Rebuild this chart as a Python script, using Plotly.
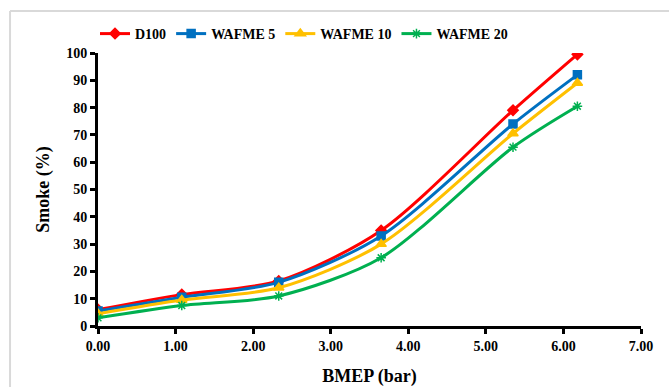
import plotly.graph_objects as go

bmep = [0.0, 1.08, 2.33, 3.65, 5.35, 6.18]
series_names = ["D100", "WAFME 5", "WAFME 10", "WAFME 20"]
d100 = [6.0, 11.5, 16.5, 35.0, 79.0, 99.5]
wafme5 = [5.5, 10.5, 16.0, 33.0, 74.0, 92.0]
wafme10 = [4.5, 9.5, 14.0, 30.0, 70.5, 89.0]
wafme20 = [3.0, 7.5, 11.0, 25.0, 65.5, 80.5]
x_ticks = [0, 1, 2, 3, 4, 5, 6, 7]
y_ticks = [0, 10, 20, 30, 40, 50, 60, 70, 80, 90, 100]

colors = ["#FF0000", "#0070C0", "#FFC000", "#00B050"]
symbols = ["diamond", "square", "triangle-up", "asterisk-open"]
sizes = [8, 8, 9, 8]
values = [d100, wafme5, wafme10, wafme20]

font = "Times New Roman"
fig = go.Figure()
for name, vals, c, s, sz in zip(series_names, values, colors, symbols, sizes):
    fig.add_trace(go.Scatter(
        x=bmep, y=vals, name=name, mode="lines+markers",
        line=dict(color=c, width=3, shape="spline", smoothing=0.8),
        marker=dict(symbol=s, size=sz, color=c, line=dict(color=c, width=1.5)),
    ))

fig.update_layout(
    width=669, height=387,
    margin=dict(l=98, r=28, t=53, b=61, autoexpand=False),
    paper_bgcolor="white", plot_bgcolor="white",
    font=dict(family=font, color="black"),
    showlegend=True,
    legend=dict(orientation="h", xref="container", yref="container",
                x=95 / 669, y=1 - 34 / 387, xanchor="left", yanchor="middle",
                font=dict(family=font, size=14, color="black", weight="bold"),
                itemwidth=30, tracegroupgap=0, bgcolor="rgba(0,0,0,0)"),
    xaxis=dict(range=[0, 7], tickvals=x_ticks,
               ticktext=[f"{v:.2f}" for v in x_ticks],
               showgrid=False, zeroline=False, automargin=False,
               showline=True, linecolor="black", linewidth=3,
               ticks="outside", ticklen=5, tickwidth=3, tickcolor="black",
               tickfont=dict(family=font, size=14, weight="bold"),
               title=dict(text="BMEP (bar)", standoff=22,
                          font=dict(family=font, size=18, weight="bold"))),
    yaxis=dict(range=[0, 100], tickvals=y_ticks,
               showgrid=False, zeroline=False, automargin=False,
               showline=True, linecolor="black", linewidth=3,
               ticks="outside", ticklen=5, tickwidth=3, tickcolor="black",
               tickfont=dict(family=font, size=14, weight="bold"),
               title=dict(text="Smoke (%)", standoff=12,
                          font=dict(family=font, size=18, weight="bold"))),
)

# chart outer border (light gray, top and left visible)
fig.add_shape(type="line", xref="paper", yref="paper",
              x0=-0.162, x1=1.2, y0=1.154, y1=1.154,
              line=dict(color="#D9D9D9", width=2))
fig.add_shape(type="line", xref="paper", yref="paper",
              x0=-0.162, x1=-0.162, y0=1.154, y1=-0.3,
              line=dict(color="#D9D9D9", width=2))

fig.write_html("out.html")
